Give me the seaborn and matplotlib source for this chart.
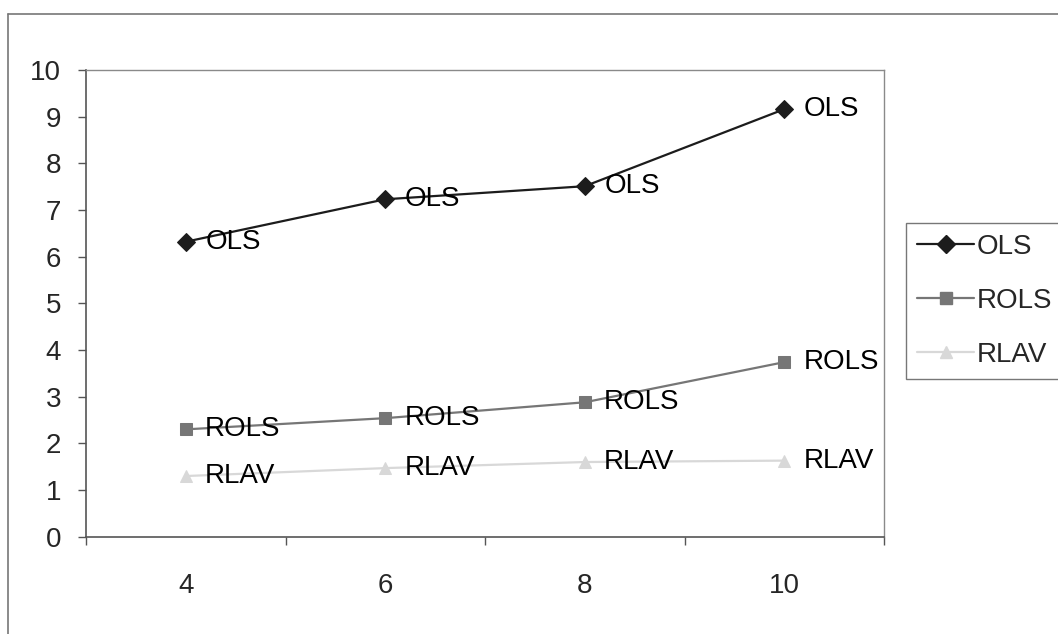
import numpy as np
import pandas as pd
import matplotlib
matplotlib.use("Agg")
import matplotlib.pyplot as plt
from matplotlib.lines import Line2D
import seaborn as sns

# ---- data ----
categories = ["4", "6", "8", "10"]
ols = [6.32, 7.23, 7.51, 9.16]
rols = [2.30, 2.54, 2.88, 3.74]
rlav = [1.30, 1.47, 1.60, 1.63]
series_names = ["OLS", "ROLS", "RLAV"]
y_ticks = [0, 1, 2, 3, 4, 5, 6, 7, 8, 9, 10]

sns.set_theme(style="white")
plt.rcParams["font.family"] = ["Liberation Sans", "DejaVu Sans"]

rows = []
for name, vals in zip(series_names, [ols, rols, rlav]):
    for i, (c, v) in enumerate(zip(categories, vals)):
        rows.append({"series": name, "pos": i, "cat": c, "value": v})
df = pd.DataFrame(rows)

colors = {"OLS": "#1c1c1c", "ROLS": "#767676", "RLAV": "#d8d8d8"}
markers = {"OLS": "D", "ROLS": "s", "RLAV": "^"}
msizes = {"OLS": 9.5, "ROLS": 8.5, "RLAV": 8}

fig = plt.figure(figsize=(10.58, 6.34), dpi=100)
fig.patch.set_facecolor("white")
ax = fig.add_axes([86 / 1058, 1 - 536.7 / 634, (884 - 86) / 1058, (536.7 - 70) / 634])

FS = 20
for name in series_names:
    sub = df[df["series"] == name]
    sns.lineplot(data=sub, x="pos", y="value", ax=ax, color=colors[name],
                 linewidth=1.6, marker=markers[name], markersize=msizes[name],
                 markeredgecolor=colors[name], markerfacecolor=colors[name],
                 legend=False, sort=False)
    for _, r in sub.iterrows():
        ax.annotate(name, (r["pos"], r["value"]), xytext=(14, 0),
                    textcoords="offset points", va="center", ha="left",
                    fontsize=FS, color="black", zorder=5)

ax.set_xlim(-0.5, 3.5)
ax.set_ylim(0, 10)
ax.set_yticks(y_ticks)
ax.set_yticklabels([str(t) for t in y_ticks], fontsize=FS)
ax.set_xticks([-0.5, 0.5, 1.5, 2.5, 3.5])
ax.set_xticklabels([])
ax.set_xticks(range(len(categories)), minor=True)
ax.set_xticklabels(categories, minor=True, fontsize=FS)
ax.tick_params(axis="x", which="minor", length=0, pad=26)
ax.tick_params(axis="x", which="major", length=6, width=1, color="#555555", direction="out", bottom=True)
ax.tick_params(axis="y", length=6, width=1, color="#555555", direction="out", left=True, pad=12)
ax.set_xlabel("")
ax.set_ylabel("")
for s in ["left", "bottom"]:
    ax.spines[s].set_color("#555555")
    ax.spines[s].set_linewidth(1.2)
for s in ["top", "right"]:
    ax.spines[s].set_color("#8a8a8a")
    ax.spines[s].set_linewidth(1.0)
    ax.spines[s].set_visible(True)
ax.grid(False)

handles = [Line2D([0], [0], color=colors[n], lw=1.6, marker=markers[n],
                  markersize=msizes[n], markerfacecolor=colors[n],
                  markeredgecolor=colors[n]) for n in series_names]
leg = fig.legend(handles, series_names, loc="upper left",
                 bbox_to_anchor=(906 / 1058, 1 - 223 / 634), fontsize=FS,
                 frameon=True, fancybox=False, borderpad=0.4, handlelength=2.05,
                 handletextpad=0.1, labelspacing=1.0, borderaxespad=0)
leg.get_frame().set_edgecolor("#555555")
leg.get_frame().set_linewidth(1.0)

# outer chart border (left and top edges visible)
fig.add_artist(Line2D([8 / 1058, 8 / 1058], [0, 1 - 14 / 634], transform=fig.transFigure,
                      color="#777777", lw=1.2))
fig.add_artist(Line2D([8 / 1058, 1], [1 - 14 / 634, 1 - 14 / 634], transform=fig.transFigure,
                      color="#777777", lw=1.2))

fig.savefig("out.png", dpi=100)
